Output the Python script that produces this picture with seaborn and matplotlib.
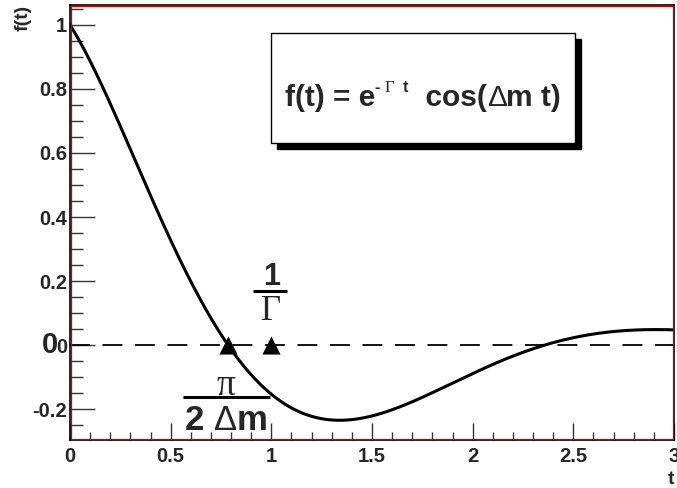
import numpy as np
import pandas as pd
import matplotlib
matplotlib.use("Agg")
import matplotlib.pyplot as plt
from matplotlib.patches import Rectangle
from matplotlib.ticker import MultipleLocator, FuncFormatter
from matplotlib.transforms import offset_copy
import seaborn as sns

# Damped oscillation parameters
gamma = 1.0        # decay rate, 1/Gamma = 1
delta_m = 2.0      # oscillation frequency
t_range = [0.0, 3.0]

# Marker positions on the zero line: pi/(2 dm) and 1/Gamma
marker_labels = ["pi_over_2dm", "inv_gamma"]
marker_t = [np.pi / (2 * delta_m), 1.0 / gamma]
marker_f = [0.0, 0.0]

y_ticks = [-0.2, 0, 0.2, 0.4, 0.6, 0.8, 1.0]
x_ticks = [0, 0.5, 1, 1.5, 2, 2.5, 3]

t = np.linspace(t_range[0], t_range[1], 600)
curve = pd.DataFrame({"t": t, "f": np.exp(-gamma * t) * np.cos(delta_m * t)})
markers = pd.DataFrame({"name": marker_labels, "t": marker_t, "f": marker_f})

sns.set_theme(style="white")
plt.rcParams["font.family"] = ["Liberation Sans", "DejaVu Sans"]
plt.rcParams["font.weight"] = "bold"

SANS = ["Liberation Sans", "DejaVu Sans"]
SERIF = ["Liberation Serif", "DejaVu Serif"]

fig = plt.figure(figsize=(6.77, 4.88), dpi=100)
ax = fig.add_axes([70 / 677, 48 / 488, 604 / 677, 435 / 488])

ax.axhline(0, color="black", lw=1.3, dashes=(11, 7), zorder=1)
sns.lineplot(data=curve, x="t", y="f", ax=ax, color="black", lw=2.2, zorder=3)
sns.scatterplot(data=markers, x="t", y="f", ax=ax, marker="^", s=170,
                color="black", edgecolor="black", linewidth=0, zorder=4)

ax.set_xlim(0, 3)
ax.set_ylim(-0.296, 1.062)
ax.set_xlabel("")
ax.set_ylabel("")

ax.set_xticks(x_ticks)
ax.set_yticks(y_ticks)
ax.xaxis.set_minor_locator(MultipleLocator(0.1))
ax.yaxis.set_minor_locator(MultipleLocator(0.05))

fmt = FuncFormatter(lambda v, p: ("%g" % round(v, 3)))
ax.xaxis.set_major_formatter(fmt)
ax.yaxis.set_major_formatter(fmt)

ax.tick_params(axis="both", which="both", direction="in", color="#333333",
               labelsize=14.5, width=1)
ax.tick_params(axis="x", which="major", length=12, pad=5, bottom=True, top=False)
ax.tick_params(axis="x", which="minor", length=6, bottom=True, top=False)
ax.tick_params(axis="y", which="major", length=18, pad=2, left=True, right=False)
ax.tick_params(axis="y", which="minor", length=9, left=True, right=False)
for lab in ax.get_xticklabels() + ax.get_yticklabels():
    lab.set_fontweight("bold")
    lab.set_fontsize(14.5)

for sp in ax.spines.values():
    sp.set_color("black")
    sp.set_linewidth(1.2)
    sp.set_visible(True)
# inner red frame line
ax.add_patch(Rectangle((0.0015, 0.002), 0.997, 0.996, transform=ax.transAxes,
                       fill=False, edgecolor="#cc0000", lw=0.9, zorder=5,
                       clip_on=False))

# Axis titles
fig.text(23 / 677, 1 - 18 / 488, "f(t)", rotation=90, ha="center", va="center",
         fontsize=14, fontweight="bold")
fig.text(671 / 677, 1 - 479 / 488, "t", ha="center", va="center",
         fontsize=14, fontweight="bold")

renderer = fig.canvas.get_renderer()


def text_run(x, y, pieces, transform, zorder=8):
    """Draw a row of text pieces side by side, centred at (x, y) on the baseline."""
    objs = []
    for s, size, fam, weight, rise in pieces:
        objs.append(fig.text(0, 0, s, fontsize=size, family=fam,
                             fontweight=weight, va="baseline", ha="left",
                             zorder=zorder))
    widths = [o.get_window_extent(renderer).width for o in objs]
    total = sum(widths)
    x0 = -total / 2.0
    for o, w, (s, size, fam, weight, rise) in zip(objs, widths, pieces):
        o.set_transform(offset_copy(transform, fig=fig, x=x0 * 72 / fig.dpi,
                                    y=rise, units="points"))
        o.set_position((x, y))
        x0 += w
    return objs


# Large zero label at the baseline
ax.text(-0.097, 0.0, "0", ha="center", va="center", fontsize=21,
        fontweight="bold", clip_on=False)

# 1/Gamma fraction
ax.text(1.0, 0.212, "1", ha="center", va="center", fontsize=22, fontweight="bold")
ax.plot([0.91, 1.08], [0.168, 0.168], color="black", lw=2.2, solid_capstyle="butt")
ax.text(1.0, 0.104, "Γ", ha="center", va="center", fontsize=25,
        family=SERIF, fontweight="normal")

# pi/(2 dm) fraction
ax.text(0.776, -0.126, "π", ha="center", va="center", fontsize=27,
        family=SERIF, fontweight="normal")
ax.plot([0.562, 0.995], [-0.1625, -0.1625], color="black", lw=2.2,
        solid_capstyle="butt")
text_run(0.776, -0.265, [("2 ", 25, SANS, "bold", 0),
                         ("Δ", 25, SANS, "normal", 0),
                         ("m", 25, SANS, "bold", 0)], ax.transData)

# Formula box with shadow
bx0, by0, bx1, by1 = 271 / 677, 1 - 143 / 488, 575 / 677, 1 - 33 / 488
off_x, off_y = 6 / 677, 6 / 488
fig.patches.append(Rectangle((bx0 + off_x, by0 - off_y), bx1 - bx0, by1 - by0,
                             transform=fig.transFigure, facecolor="black",
                             edgecolor="black", zorder=6))
fig.patches.append(Rectangle((bx0, by0), bx1 - bx0, by1 - by0,
                             transform=fig.transFigure, facecolor="white",
                             edgecolor="black", lw=1, zorder=7))
text_run((bx0 + bx1) / 2, 1 - 106 / 488,
         [("f(t) = e", 21.5, SANS, "bold", 0),
          ("- ", 11.5, SANS, "bold", 10),
          ("Γ", 12, SERIF, "normal", 10),
          ("  t", 11.5, SANS, "bold", 10),
          ("  cos(", 21.5, SANS, "bold", 0),
          ("Δ", 21.5, SANS, "normal", 0),
          ("m t)", 21.5, SANS, "bold", 0)],
         fig.transFigure)

fig.savefig("out.png", dpi=100)
